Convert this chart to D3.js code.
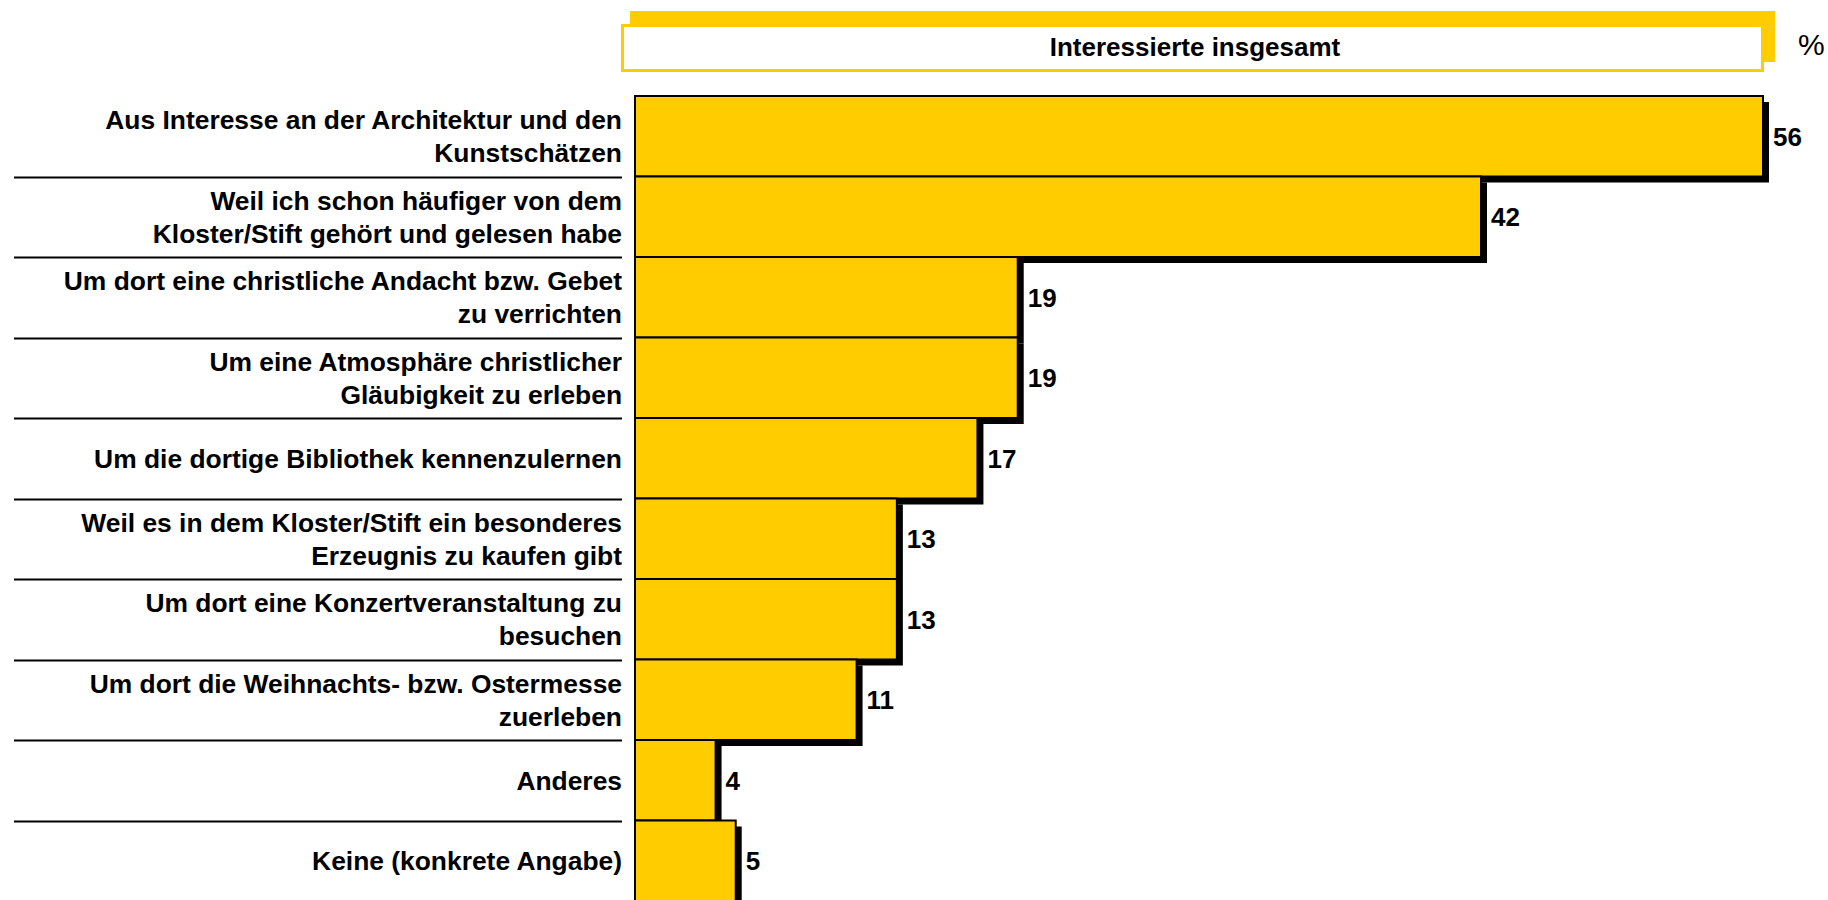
<html>
<head>
  <meta charset="utf-8">
  <title>Interessierte insgesamt</title>
  <script src="https://d3js.org/d3.v7.min.js"></script>
  <style>
    html, body { margin:0; padding:0; overflow:hidden; background:#fff }
    svg { display:block }
    text { font-family: "Liberation Sans", Arial, sans-serif; fill:#000 }
  </style>
</head>
<body>
  <div class="chart"></div>
  <script>

    // categories (line breaks as in the original labels)
    var categories = [
      "Aus Interesse an der Architektur und den\nKunstschätzen",
      "Weil ich schon häufiger von dem\nKloster/Stift gehört und gelesen habe",
      "Um dort eine christliche Andacht bzw. Gebet\nzu verrichten",
      "Um eine Atmosphäre christlicher\nGläubigkeit zu erleben",
      "Um die dortige Bibliothek kennenzulernen",
      "Weil es in dem Kloster/Stift ein besonderes\nErzeugnis zu kaufen gibt",
      "Um dort eine Konzertveranstaltung zu\nbesuchen",
      "Um dort die Weihnachts- bzw. Ostermesse\nzuerleben",
      "Anderes",
      "Keine (konkrete Angabe)"
    ];
    var values = [56, 42, 19, 19, 17, 13, 13, 11, 4, 5];
    var seriesName = "Interessierte insgesamt";
    var unitLabel = "%";

    var W = 1828, H = 900;
    var YELLOW = "#ffcc00";
    var SHADOW = 6;

    var svg = d3.select("div.chart").append("svg")
      .attr("width", W)
      .attr("height", H);

    var x = d3.scaleLinear().domain([0, 56]).range([635, 1763]);
    var y = d3.scaleBand().domain(d3.range(categories.length)).range([96, 901]).padding(0);

    // header box
    svg.append("rect")
      .attr("x", 630).attr("y", 11)
      .attr("width", 1775 - 630).attr("height", 62 - 11)
      .attr("fill", YELLOW);
    svg.append("rect")
      .attr("x", 622.5).attr("y", 25.5)
      .attr("width", 1762.5 - 622.5).attr("height", 70.5 - 25.5)
      .attr("fill", "#fff")
      .attr("stroke", YELLOW)
      .attr("stroke-width", 3);
    svg.append("text")
      .attr("x", (622 + 1764) / 2 + 2).attr("y", 56)
      .attr("text-anchor", "middle")
      .style("font-size", "26px").style("font-weight", "bold")
      .text(seriesName);
    svg.append("text")
      .attr("x", 1798).attr("y", 55)
      .style("font-size", "30px")
      .text(unitLabel);

    // separators between label rows
    svg.append("g").selectAll("line")
      .data(d3.range(1, categories.length))
      .enter().append("line")
      .attr("x1", 14).attr("x2", 622)
      .attr("y1", function(i) { return Math.round(y(i)) + 0.5; })
      .attr("y2", function(i) { return Math.round(y(i)) + 0.5; })
      .attr("stroke", "#000")
      .attr("stroke-width", 2);

    // shadows first, then bars on top
    svg.append("g").selectAll("rect")
      .data(values)
      .enter().append("rect")
      .attr("x", x(0) + SHADOW)
      .attr("y", function(d, i) { return y(i) + SHADOW; })
      .attr("width", function(d) { return x(d) - x(0); })
      .attr("height", y.bandwidth())
      .attr("fill", "#000");

    svg.append("g").selectAll("rect")
      .data(values)
      .enter().append("rect")
      .attr("x", x(0))
      .attr("y", function(d, i) { return y(i); })
      .attr("width", function(d) { return x(d) - x(0); })
      .attr("height", y.bandwidth())
      .attr("fill", YELLOW)
      .attr("stroke", "#000")
      .attr("stroke-width", 2);

    // value labels
    svg.append("g").selectAll("text")
      .data(values)
      .enter().append("text")
      .attr("x", function(d) { return x(d) + 10; })
      .attr("y", function(d, i) { return y(i) + y.bandwidth() / 2 + 9.5; })
      .style("font-size", "26px").style("font-weight", "bold")
      .text(function(d) { return d; });

    // category labels
    var labels = svg.append("g").selectAll("text")
      .data(categories)
      .enter().append("text")
      .attr("text-anchor", "end")
      .style("font-size", "26.4px").style("font-weight", "bold");

    labels.each(function(d, i) {
      var lines = d.split("\n");
      var mid = y(i) + y.bandwidth() / 2 + 9.5;
      var t = d3.select(this);
      lines.forEach(function(line, k) {
        t.append("tspan")
          .attr("x", 622)
          .attr("y", mid + (k - (lines.length - 1) / 2) * 33)
          .text(line);
      });
    });

  </script>
</body>
</html>
